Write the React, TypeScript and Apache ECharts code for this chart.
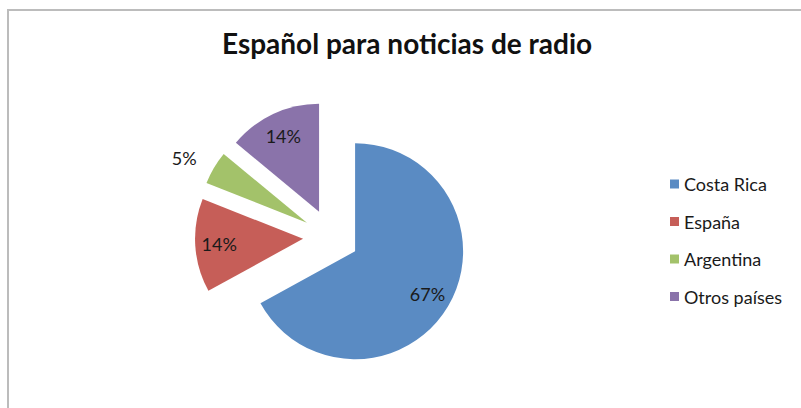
import React, { useEffect, useRef } from "react";
import * as echarts from "echarts";

const categories = ["Costa Rica", "España", "Argentina", "Otros países"];
const values = [67, 14, 5, 14];
const colors = ["#5A8BC3", "#C65E58", "#A3C26A", "#8A73AA"];
const outsideLabelIndex = [2];
const titleText = "Español para noticias de radio";

export default function App() {
  const ref = useRef<HTMLDivElement>(null);
  useEffect(() => {
    const chart = echarts.init(ref.current!, undefined, { renderer: "svg" });
    const font = "Lato";
    const center = [331, 237];
    const offset = 28;
    const labelColor = "#1a1a1a";

    const mainData = categories.map((name, i) => ({
      name,
      value: values[i],
      selected: true,
      itemStyle: { color: colors[i] },
      label: outsideLabelIndex.includes(i)
        ? { show: true, position: "outside", distanceToLabelLine: 0 }
        : { show: false },
      labelLine: { show: false, length: 20, length2: 0 },
    }));

    const labelData = categories.map((name, i) => ({
      name,
      value: values[i],
      selected: true,
      itemStyle: { color: "rgba(0,0,0,0)" },
      label: { show: !outsideLabelIndex.includes(i) },
    }));

    chart.setOption({
      animation: false,
      backgroundColor: "#ffffff",
      title: {
        text: titleText,
        left: 222,
        top: 29,
        padding: 0,
        textStyle: { fontFamily: font, fontSize: 28, fontWeight: "bold", color: "#111" },
      },
      legend: {
        orient: "vertical",
        left: 670,
        top: 175,
        padding: 0,
        icon: "rect",
        itemWidth: 9,
        itemHeight: 9,
        itemGap: 19.5,
        data: categories,
        textStyle: { fontFamily: font, fontSize: 18, color: labelColor, lineHeight: 16 },
      },
      graphic: [
        {
          type: "rect",
          shape: { x: 8, y: 10, width: 900, height: 500 },
          style: { fill: "none", stroke: "#bcbcbc", lineWidth: 2 },
          silent: true,
          z: -1,
        },
      ],
      series: [
        {
          type: "pie",
          center,
          radius: [0, 108],
          startAngle: 90,
          clockwise: true,
          selectedMode: "multiple",
          selectedOffset: offset,
          avoidLabelOverlap: false,
          percentPrecision: 0,
          itemStyle: { borderWidth: 0 },
          select: { itemStyle: { borderWidth: 0 } },
          emphasis: { disabled: true },
          label: {
            formatter: "{d}%",
            fontFamily: font,
            fontSize: 18,
            color: labelColor,
          },
          data: mainData,
        },
        {
          type: "pie",
          center,
          radius: [0, 162],
          startAngle: 90,
          clockwise: true,
          selectedMode: "multiple",
          selectedOffset: offset,
          avoidLabelOverlap: false,
          percentPrecision: 0,
          legendHoverLink: false,
          itemStyle: { borderWidth: 0 },
          select: { itemStyle: { borderWidth: 0 } },
          emphasis: { disabled: true },
          labelLine: { show: false },
          label: {
            position: "inside",
            formatter: "{d}%",
            fontFamily: font,
            fontSize: 18,
            color: labelColor,
          },
          data: labelData,
        },
      ],
    });
    return () => chart.dispose();
  }, []);
  return (
    <div
      ref={ref}
      style={{ position: "fixed", left: 0, top: 0, width: 801, height: 408, background: "#fff" }}
    />
  );
}
